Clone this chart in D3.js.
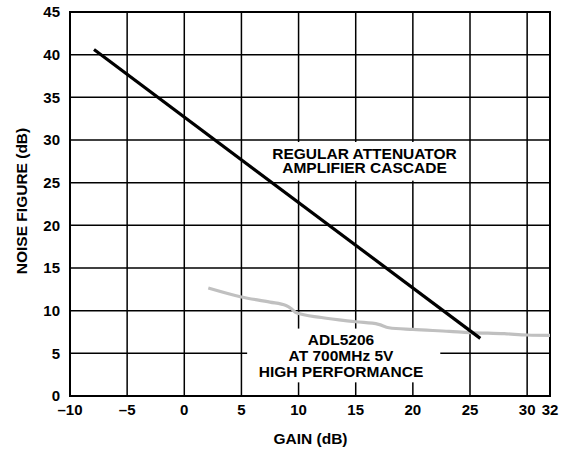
<!DOCTYPE html>
<html>
<head>
<meta charset="utf-8">
<script src="https://cdn.jsdelivr.net/npm/d3@7"></script>
<style>
    body { margin: 0; background: #fff; }
    text { font-family: 'Liberation Sans', Arial, sans-serif; font-weight: bold; fill: #000; }
</style>
</head>
<body>
<script>
// tick values
const xTicks = [-10, -5, 0, 5, 10, 15, 20, 25, 30, 32]
const yTicks = [0, 5, 10, 15, 20, 25, 30, 35, 40, 45]

// regular attenuator + amplifier cascade (straight line)
const cascadeGain = [-7.9, 25.9]
const cascadeNF = [40.6, 6.75]

// ADL5206 at 700MHz 5V
const adlGain = [2.1, 5.0, 7.5, 8.9, 9.4, 9.8, 12, 15.0, 17.0, 17.9, 20, 23.2, 25, 28, 30, 32]
const adlNF = [12.65, 11.6, 11.0, 10.6, 10.2, 9.75, 9.2, 8.7, 8.4, 8.0, 7.8, 7.58, 7.43, 7.3, 7.15, 7.1]

const width = 568
const height = 449
const margin = {left: 70, right: 18, top: 12, bottom: 53}

const svg = d3.select('body')
    .append('svg')
    .attr('width', width)
    .attr('height', height)

const x = d3.scaleLinear().domain([-10, 32]).range([margin.left, width - margin.right])
const y = d3.scaleLinear().domain([0, 45]).range([height - margin.bottom, margin.top])

// grid
const grid = svg.append('g')
grid.selectAll('.vline')
    .data(xTicks)
    .enter()
    .append('line')
    .attr('x1', d => x(d))
    .attr('x2', d => x(d))
    .attr('y1', y(0))
    .attr('y2', y(45))
    .attr('stroke', '#000')
    .attr('stroke-width', 1.5)
grid.selectAll('.hline')
    .data(yTicks)
    .enter()
    .append('line')
    .attr('x1', x(-10))
    .attr('x2', x(32))
    .attr('y1', d => y(d))
    .attr('y2', d => y(d))
    .attr('stroke', '#000')
    .attr('stroke-width', 1.5)

// white boxes behind the annotations break the grid
svg.append('rect')
    .attr('x', x(6.1)).attr('y', y(30) + 2)
    .attr('width', x(24.4) - x(6.1)).attr('height', y(25) - y(30) - 4)
    .attr('fill', '#fff')
svg.append('rect')
    .attr('x', x(5.5)).attr('y', y(7.9))
    .attr('width', x(22.4) - x(5.5)).attr('height', y(1.6) - y(7.9))
    .attr('fill', '#fff')

// frame
svg.append('rect')
    .attr('x', x(-10)).attr('y', y(45))
    .attr('width', x(32) - x(-10)).attr('height', y(0) - y(45))
    .attr('fill', 'none')
    .attr('stroke', '#000')
    .attr('stroke-width', 2)

const line = d3.line()
    .x(d => x(d[0]))
    .y(d => y(d[1]))

svg.append('path')
    .datum(adlGain.map((g, i) => [g, adlNF[i]]))
    .attr('d', line.curve(d3.curveMonotoneX))
    .attr('fill', 'none')
    .attr('stroke', '#c0c0c0')
    .attr('stroke-width', 3.2)

svg.append('path')
    .datum(cascadeGain.map((g, i) => [g, cascadeNF[i]]))
    .attr('d', d3.line().x(d => x(d[0])).y(d => y(d[1])))
    .attr('fill', 'none')
    .attr('stroke', '#000')
    .attr('stroke-width', 3.2)

// tick labels
svg.append('g').selectAll('text')
    .data(xTicks)
    .enter()
    .append('text')
    .attr('x', d => x(d))
    .attr('y', 415)
    .attr('text-anchor', 'middle')
    .style('font-size', '15px')
    .text(d => d < 0 ? '\u2013' + Math.abs(d) : d)

svg.append('g').selectAll('text')
    .data(yTicks)
    .enter()
    .append('text')
    .attr('x', 60)
    .attr('y', d => y(d) + 5.3)
    .attr('text-anchor', 'end')
    .style('font-size', '15px')
    .text(d => d)

// axis titles
svg.append('text')
    .attr('x', 310.5)
    .attr('y', 444)
    .attr('text-anchor', 'middle')
    .style('font-size', '15.5px')
    .text('GAIN (dB)')

svg.append('text')
    .attr('transform', 'translate(27,201) rotate(-90)')
    .attr('text-anchor', 'middle')
    .style('font-size', '15.5px')
    .text('NOISE FIGURE (dB)')

// annotations
const note1 = ['REGULAR ATTENUATOR', 'AMPLIFIER CASCADE']
svg.append('g').selectAll('text')
    .data(note1)
    .enter()
    .append('text')
    .attr('x', 364.5)
    .attr('y', (d, i) => 159 + i * 14.3)
    .attr('text-anchor', 'middle')
    .style('font-size', '15.5px')
    .text(d => d)

const note2 = ['ADL5206', 'AT 700MHz 5V', 'HIGH PERFORMANCE']
svg.append('g').selectAll('text')
    .data(note2)
    .enter()
    .append('text')
    .attr('x', 341)
    .attr('y', (d, i) => 345 + i * 15.8)
    .attr('text-anchor', 'middle')
    .style('font-size', '15.5px')
    .text(d => d)
</script>
</body>
</html>
